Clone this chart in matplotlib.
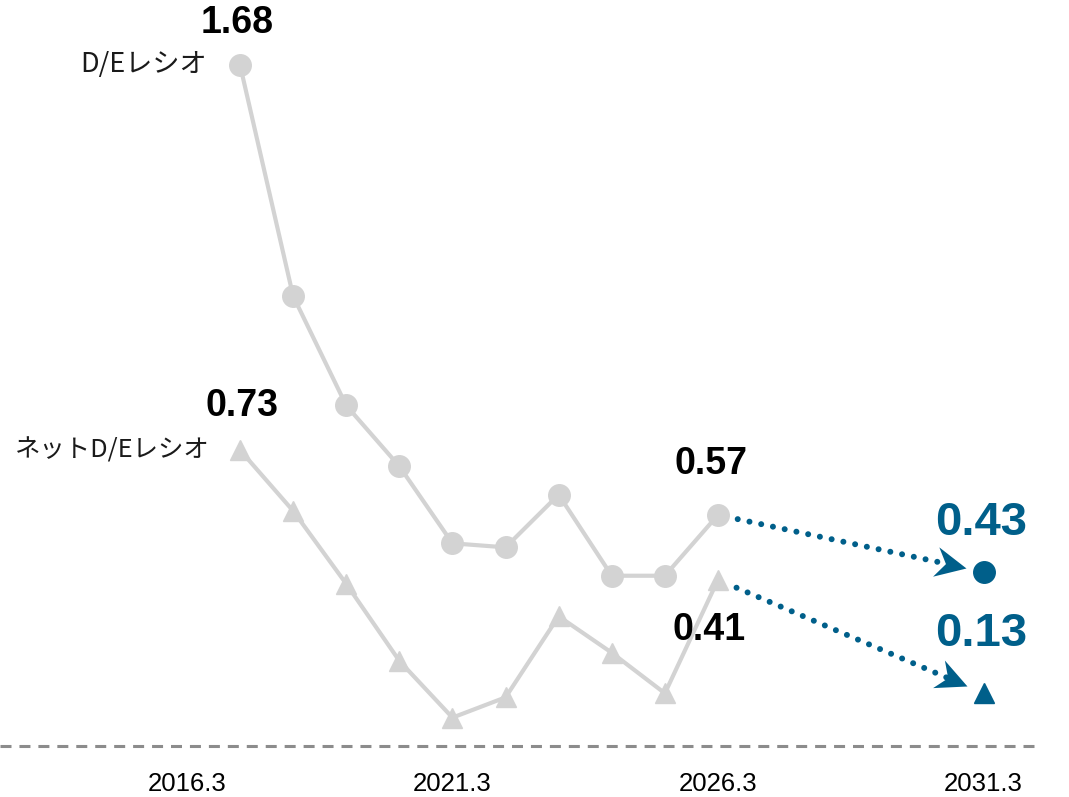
import matplotlib
matplotlib.use('Agg')
import numpy as np
import matplotlib.pyplot as plt
from matplotlib.path import Path
from matplotlib.markers import MarkerStyle

# fiscal years (year-end March)
years = [2017.3, 2018.3, 2019.3, 2020.3, 2021.3, 2022.3, 2023.3, 2024.3, 2025.3, 2026.3]
de_ratio = [1.68, 1.11, 0.84, 0.69, 0.50, 0.49, 0.62, 0.42, 0.42, 0.57]
net_de_ratio = [0.73, 0.58, 0.40, 0.21, 0.07, 0.12, 0.32, 0.23, 0.13, 0.41]

target_year = 2031.3
de_target = 0.43
net_de_target = 0.13

tick_years = [2016.3, 2021.3, 2026.3, 2031.3]
tick_labels = ['2016.3', '2021.3', '2026.3', '2031.3']

gray = '#d3d3d3'
blue = '#005f8a'
num_font = ['Liberation Sans', 'DejaVu Sans']
jp_font = ['Noto Sans CJK JP', 'DejaVu Sans']

fig = plt.figure(figsize=(10.69, 7.97), dpi=100)
ax = fig.add_axes([0, 51 / 797, 1, 746 / 797])
ax.set_xlim(2012.781, 2032.909)
ax.set_ylim(0, 1.8402)
for s in ax.spines.values():
    s.set_visible(False)
ax.set_yticks([])
ax.set_xticks(tick_years)
ax.set_xticklabels(tick_labels, fontsize=18.5, family=num_font)
ax.tick_params(axis='x', length=0, pad=19)

# baseline
ax.axhline(0, xmax=1035 / 1069, color='#8c8c8c', lw=2.2, linestyle=(0, (3.6, 2.6)), clip_on=False)

# history lines
ax.plot(years, de_ratio, color=gray, lw=3, marker='o', markersize=15.5, zorder=3)
ax.plot(years, net_de_ratio, color=gray, lw=3, marker='^', markersize=15, zorder=3)

# targets
ax.plot([target_year], [de_target], marker='o', markersize=15.5, color=blue, lw=0, zorder=4)
ax.plot([target_year], [net_de_target], marker='^', markersize=14.5, color=blue, lw=0, zorder=4)

# dotted arrows from last actual to target, with a notched head (pixels, tip at origin)
head = np.array([[0, 0], [-31, 15], [-21, 0], [-31, -15], [0, 0]], dtype=float)
codes = [Path.MOVETO, Path.LINETO, Path.LINETO, Path.LINETO, Path.CLOSEPOLY]
for y0, y1 in [(de_ratio[-1], de_target), (net_de_ratio[-1], net_de_target)]:
    ax.annotate('', xy=(target_year, y1), xytext=(years[-1], y0),
                arrowprops=dict(arrowstyle='-', color=blue, lw=4.3,
                                linestyle=(0, (0.01, 2.0)), capstyle='round',
                                shrinkA=14.5, shrinkB=29))
    p0 = ax.transData.transform((years[-1], y0))
    p1 = ax.transData.transform((target_year, y1))
    u = (p1 - p0) / np.hypot(*(p1 - p0))
    ang = np.arctan2(u[1], u[0])
    rot = np.array([[np.cos(ang), -np.sin(ang)], [np.sin(ang), np.cos(ang)]])
    verts = head @ rot.T
    size_px = 2 * np.abs(verts).max()
    tip = ax.transData.inverted().transform(p1 - u * 18)
    ax.plot([tip[0]], [tip[1]], marker=MarkerStyle(Path(verts, codes)),
            markersize=size_px * 72 / fig.dpi, color=blue, markeredgewidth=0, lw=0, zorder=4)

# value labels
def label(x, y, txt, dx, dy, size, color='black'):
    ax.annotate(txt, xy=(x, y), xytext=(dx, dy), textcoords='offset points',
                ha='center', va='center', fontsize=size, fontweight='bold',
                family=num_font, color=color)

label(years[0], de_ratio[0], '1.68', -2, 30, 27)
label(years[0], net_de_ratio[0], '0.73', 1.5, 31.5, 27)
label(years[-1], de_ratio[-1], '0.57', -5, 36.5, 27)
label(years[-1], net_de_ratio[-1], '0.41', -6.5, -36, 27)
label(target_year, de_target, '0.43', -1.5, 35, 34, blue)
label(target_year, net_de_target, '0.13', -1.5, 42.5, 34, blue)

# series names
ax.annotate('D/Eレシオ', xy=(years[0], de_ratio[0]), xytext=(-24, 0),
            textcoords='offset points', ha='right', va='center',
            fontsize=19.5, family=jp_font, color='#1a1a1a')
ax.annotate('ネットD/Eレシオ', xy=(years[0], net_de_ratio[0]), xytext=(-21.5, 0),
            textcoords='offset points', ha='right', va='center',
            fontsize=18.3, family=jp_font, color='#1a1a1a')

fig.savefig('out.png', dpi=100)
